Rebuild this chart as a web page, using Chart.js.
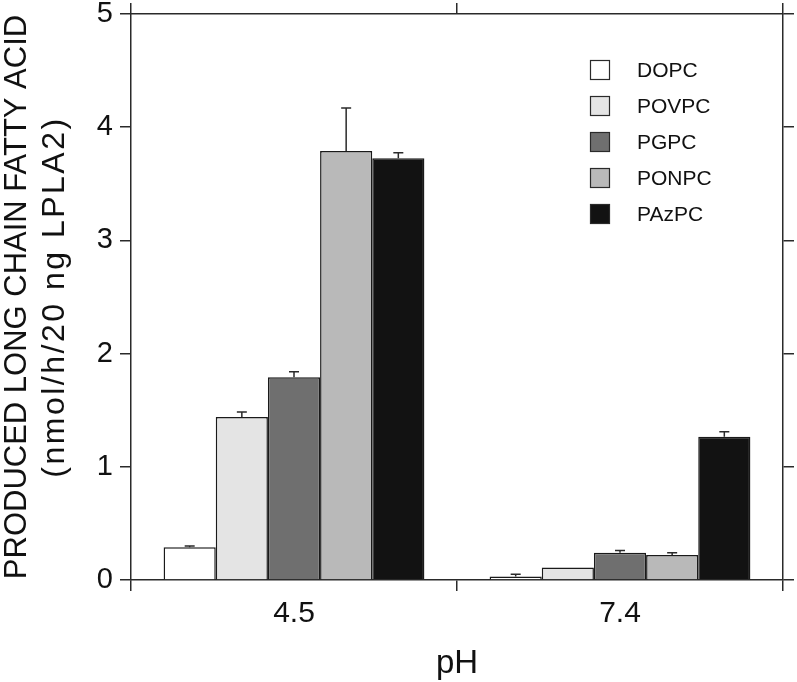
<!doctype html>
<html lang="en">
<head>
  <meta charset="utf-8" />
  <title>LPLA2 activity by pH</title>
  <script src="https://cdn.jsdelivr.net/npm/chart.js"></script>
  <style>
    html, body { margin: 0; padding: 0; background: #fff; }
    .chart-box { width: 797px; height: 682px; }
  </style>
</head>
<body>
  <div class="chart-box">
    <canvas id="lpla2Chart"></canvas>
  </div>

  <script>
    // values (nmol/h/20 ng LPLA2)
    const phLabels = ['4.5', '7.4'];
    const lipidNames = ['DOPC', 'POVPC', 'PGPC', 'PONPC', 'PAzPC'];
    const dopcMean = [0.29, 0.03];
    const povpcMean = [1.44, 0.11];
    const pgpcMean = [1.79, 0.24];
    const ponpcMean = [3.79, 0.22];
    const pazpcMean = [3.725, 1.265];
    // upper error (SD)
    const dopcErr = [0.01, 0.02];
    const povpcErr = [0.045, 0];
    const pgpcErr = [0.05, 0.02];
    const ponpcErr = [0.38, 0.02];
    const pazpcErr = [0.05, 0.045];
    const yTicks = [0, 1, 2, 3, 4, 5];
    const yTitle = 'PRODUCED LONG CHAIN FATTY ACID';
    const yUnits = '(nmol/h/20 ng LPLA2)';

    const fillColors = ['#ffffff', '#e4e4e4', '#6f6f6f', '#b9b9b9', '#121212'];
    const means = [dopcMean, povpcMean, pgpcMean, ponpcMean, pazpcMean];
    const errs = [dopcErr, povpcErr, pgpcErr, ponpcErr, pazpcErr];

    const FONT = "'Liberation Sans', Arial, Helvetica, sans-serif";
    const INK = '#2a2a2a';

    // error bars, upward only
    const errorBars = {
      id: 'errorBars',
      afterDatasetsDraw(chart) {
        const ctx = chart.ctx;
        const yScale = chart.scales.y;
        ctx.save();
        ctx.strokeStyle = INK;
        ctx.lineWidth = 1.5;
        chart.data.datasets.forEach((ds, i) => {
          chart.getDatasetMeta(i).data.forEach((bar, j) => {
            const e = errs[i][j];
            if (!e) return;
            const yTop = yScale.getPixelForValue(means[i][j] + e);
            ctx.beginPath();
            ctx.moveTo(bar.x, bar.y);
            ctx.lineTo(bar.x, yTop);
            ctx.moveTo(bar.x - 5, yTop);
            ctx.lineTo(bar.x + 5, yTop);
            ctx.stroke();
          });
        });
        ctx.restore();
      }
    };

    // second line of the y title (units), slightly wider set than line 1
    const yUnitsLine = {
      id: 'yUnitsLine',
      afterDraw(chart) {
        const ctx = chart.ctx;
        const area = chart.chartArea;
        ctx.save();
        ctx.translate(55, (area.top + area.bottom) / 2);
        ctx.rotate(-Math.PI / 2);
        ctx.font = '32px ' + FONT;
        ctx.letterSpacing = '2.5px';
        ctx.fillStyle = '#111';
        ctx.textAlign = 'center';
        ctx.textBaseline = 'middle';
        ctx.fillText(yUnits, 0, 0);
        ctx.restore();
      }
    };

    // legend inside the plot, top right
    const boxLegend = {
      id: 'boxLegend',
      afterDraw(chart) {
        const ctx = chart.ctx;
        ctx.save();
        ctx.font = '21px ' + FONT;
        ctx.textBaseline = 'middle';
        ctx.textAlign = 'left';
        chart.data.datasets.forEach((ds, i) => {
          const cy = 70 + i * 36;
          ctx.fillStyle = ds.backgroundColor;
          ctx.fillRect(590, cy - 10, 20, 20);
          ctx.strokeStyle = INK;
          ctx.lineWidth = 1.2;
          ctx.strokeRect(590.5, cy - 9.5, 19, 19);
          ctx.fillStyle = '#111';
          ctx.fillText(ds.label, 637, cy + 1);
        });
        ctx.restore();
      }
    };

    const datasets = lipidNames.map((name, i) => ({
      label: name,
      data: means[i],
      backgroundColor: fillColors[i],
      borderColor: '#1a1a1a',
      borderWidth: 1.5,
      categoryPercentage: 0.8,
      barPercentage: 1.0
    }));

    const edgeGrid = {
      drawOnChartArea: false,
      drawTicks: true,
      tickLength: 11,
      color: INK,
      lineWidth: 1.5
    };
    const edgeBorder = { display: true, color: INK, width: 1.5 };

    new Chart(document.getElementById('lpla2Chart'), {
      type: 'bar',
      data: { labels: phLabels, datasets: datasets },
      options: {
        responsive: true,
        maintainAspectRatio: false,
        animation: false,
        layout: { padding: 0 },
        plugins: {
          legend: { display: false },
          tooltip: { enabled: false }
        },
        scales: {
          x: {
            position: 'bottom',
            offset: true,
            grid: Object.assign({ offset: true }, edgeGrid),
            border: edgeBorder,
            ticks: { color: '#111', padding: 5, font: { family: FONT, size: 30 } },
            title: {
              display: true,
              text: 'pH',
              color: '#111',
              padding: { top: 0, bottom: 1 },
              font: { family: FONT, size: 33, lineHeight: 1.05 }
            },
            afterFit(s) { s.height = 102; s.paddingLeft = 0; s.paddingRight = 0; }
          },
          x2: {
            type: 'category',
            labels: phLabels,
            position: 'top',
            offset: true,
            grid: Object.assign({ offset: true }, edgeGrid),
            border: edgeBorder,
            ticks: { display: false },
            afterFit(s) { s.height = 14; s.paddingLeft = 0; s.paddingRight = 0; }
          },
          y: {
            position: 'left',
            min: yTicks[0],
            max: yTicks[yTicks.length - 1],
            afterBuildTicks(s) { s.ticks = yTicks.map(v => ({ value: v })); },
            grid: edgeGrid,
            border: edgeBorder,
            ticks: { color: '#111', padding: 7, font: { family: FONT, size: 29 } },
            title: {
              display: true,
              text: yTitle,
              color: '#111',
              padding: { top: 0, bottom: 0 },
              font: { family: FONT, size: 31, lineHeight: 1.1 }
            },
            afterFit(s) { s.width = 131; s.paddingTop = 0; s.paddingBottom = 0; }
          },
          y2: {
            position: 'right',
            min: yTicks[0],
            max: yTicks[yTicks.length - 1],
            afterBuildTicks(s) { s.ticks = yTicks.map(v => ({ value: v })); },
            grid: edgeGrid,
            border: edgeBorder,
            ticks: { display: false },
            afterFit(s) { s.width = 14; s.paddingTop = 0; s.paddingBottom = 0; }
          }
        }
      },
      plugins: [errorBars, yUnitsLine, boxLegend]
    });
  </script>
</body>
</html>
